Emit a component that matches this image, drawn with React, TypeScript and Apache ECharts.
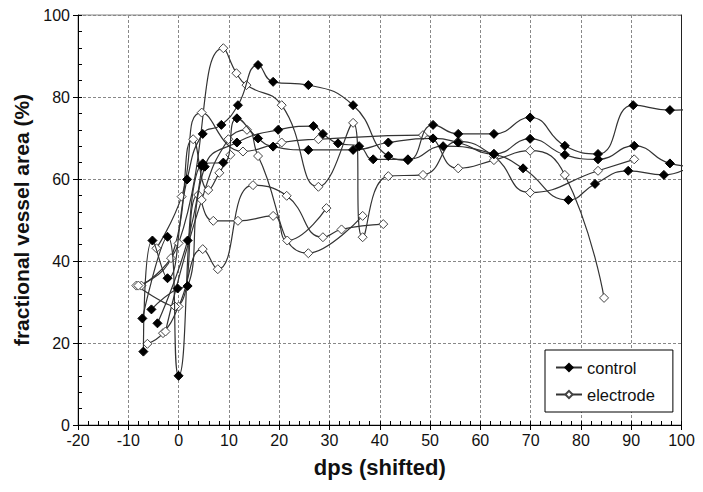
import React, { useEffect, useRef } from "react";
import * as echarts from "echarts";

// x = dps (shifted), y = fractional vessel area (%)
const controlA = [[-7.0,17.9],[-5.2,45.0],[-2.2,35.8],[1.7,59.9],[4.8,71.0],[8.5,73.2],[11.8,78.0],[15.8,87.8],[18.8,83.7],[25.8,82.9],[34.7,78.0],[41.7,65.6],[45.6,64.6],[50.6,73.2],[55.6,71.0],[62.7,71.0],[69.9,75.0],[76.8,68.1],[83.4,66.1],[90.4,78.0],[97.7,76.8],[103,77.0]];
const controlB = [[-7.2,26.0],[-2.2,45.9],[0.0,12.0],[4.8,63.8],[8.9,64.0],[11.6,74.8],[15.8,69.9],[18.8,67.9],[25.8,67.1],[34.7,67.1],[41.7,68.9],[50.6,69.9],[55.6,68.9],[62.7,66.1],[69.9,69.8],[76.8,65.9],[83.4,64.8],[90.6,68.1],[97.7,63.8],[103,63.0]];
const controlC = [[-5.4,28.2],[-0.2,33.3],[1.8,33.9],[5.2,63.0],[11.6,68.9],[19.8,72.0],[26.8,72.9],[28.7,71.0],[31.7,68.7],[35.9,68.0],[38.7,64.8],[45.6,64.8],[52.6,68.0],[62.7,66.1],[68.5,62.6],[77.5,54.9],[82.8,58.8],[89.4,62.0],[96.5,61.0],[103,64.0]];
const controlD = [[-4.2,24.8],[1.8,45.0],[4.6,63.2]];

const electrodeA = [[-7.4,34.0],[0.0,44.3],[8.9,91.9],[11.5,85.8],[13.5,82.9],[20.5,78.0],[27.8,58.1],[34.7,73.7],[36.6,45.8],[41.7,60.7],[48.6,61.0],[55.6,69.2],[62.7,65.5],[69.9,56.7],[83.4,62.0],[90.6,64.8]];
const electrodeB = [[-4.4,43.1],[0.6,55.7],[4.6,76.2],[12.8,66.7],[20.5,68.9],[27.8,69.7],[48.6,70.7],[55.6,62.6],[62.7,64.6],[69.9,66.9],[76.8,61.0],[84.6,31.0]];
const electrodeC = [[-6.2,19.8],[-3.1,22.4],[0.0,28.9],[4.8,42.9],[7.8,38.0],[14.8,58.5],[21.5,55.9],[28.7,45.8],[32.4,47.7],[40.7,49.0]];
const electrodeD = [[-8.4,34.0],[-0.7,28.9],[3.9,56.1],[6.9,49.8],[11.8,49.8],[18.8,51.0],[21.6,45.0],[29.4,52.9]];
const electrodeE = [[-2.6,22.8],[4.6,54.9],[9.9,69.7],[13.6,72.0],[15.8,65.6],[25.8,41.9],[36.6,51.0]];
const electrodeF = [[-8.0,34.0],[-1.5,40.7],[2.9,69.7],[5.9,57.3],[8.1,61.5],[10.3,65.9]];

const controlSeries = [controlA, controlB, controlC, controlD];
const electrodeSeries = [electrodeA, electrodeB, electrodeC, electrodeD, electrodeE, electrodeF];

const FONT = "'Liberation Sans', Arial, sans-serif";

export default function App() {
  const ref = useRef<HTMLDivElement>(null);
  useEffect(() => {
    const chart = echarts.init(ref.current!, null, { renderer: "svg" });
    const lineStyle = { color: "#333", width: 1.2 };
    const series: any[] = [];
    electrodeSeries.forEach((d) =>
      series.push({
        name: "electrode",
        type: "line",
        data: d,
        smooth: 0.5,
        symbol: "diamond",
        symbolSize: 9,
        lineStyle,
        itemStyle: { color: "#fff", borderColor: "#444", borderWidth: 1 },
        z: 2,
      })
    );
    controlSeries.forEach((d) =>
      series.push({
        name: "control",
        type: "line",
        data: d,
        smooth: 0.5,
        symbol: "diamond",
        symbolSize: 9,
        lineStyle,
        itemStyle: { color: "#000", borderColor: "#000", borderWidth: 1 },
        z: 3,
      })
    );
    const minorAxisCommon = {
      type: "value",
      axisLabel: { show: false },
      splitLine: { show: false },
      axisTick: { show: true, inside: true, length: 4, lineStyle: { color: "#000" } },
    };
    chart.setOption({
      animation: false,
      backgroundColor: "#fff",
      textStyle: { fontFamily: FONT },
      grid: { left: 78, right: 21.5, top: 15, bottom: 67, show: true, borderColor: "#888", borderWidth: 1 },
      legend: {
        data: ["control", "electrode"],
        orient: "vertical",
        left: 545,
        top: 350,
        itemWidth: 26,
        itemHeight: 9,
        itemGap: 10,
        backgroundColor: "#fff",
        borderColor: "#000",
        borderWidth: 1,
        borderRadius: 0,
        padding: [9, 18, 9, 10],
        textStyle: { fontFamily: FONT, fontSize: 16.5, color: "#111" },
      },
      xAxis: [
        {
          type: "value",
          min: -20,
          max: 100,
          interval: 10,
          name: "dps (shifted)",
          nameLocation: "middle",
          nameGap: 31,
          nameTextStyle: { fontFamily: FONT, fontSize: 22, fontWeight: "bold", color: "#111" },
          axisLine: { onZero: false, lineStyle: { color: "#000", width: 1 } },
          axisTick: { show: true, inside: false, length: 5, lineStyle: { color: "#000" } },
          axisLabel: { fontFamily: FONT, fontSize: 16, color: "#111", margin: 7 },
          splitLine: { show: true, lineStyle: { color: "#888", type: [3, 2], width: 1 } },
        },
        {
          ...minorAxisCommon,
          min: -20,
          max: 100,
          interval: 2,
          position: "bottom",
          axisLine: { show: false, onZero: false },
        },
      ],
      yAxis: [
        {
          type: "value",
          min: 0,
          max: 100,
          interval: 20,
          name: "fractional vessel area (%)",
          nameLocation: "middle",
          nameGap: 37,
          nameTextStyle: { fontFamily: FONT, fontSize: 21, fontWeight: "bold", color: "#111" },
          axisLine: { show: true, onZero: false, lineStyle: { color: "#000", width: 1 } },
          axisTick: { show: true, inside: false, length: 5, lineStyle: { color: "#000" } },
          axisLabel: { fontFamily: FONT, fontSize: 16, color: "#111", margin: 8 },
          splitLine: { show: true, lineStyle: { color: "#888", type: [3, 2], width: 1 } },
        },
        {
          type: "value",
          min: 0,
          max: 100,
          position: "right",
          axisLine: { show: true, onZero: false, lineStyle: { color: "#222", width: 1 } },
          axisTick: { show: false },
          axisLabel: { show: false },
          splitLine: { show: false },
        },
        {
          ...minorAxisCommon,
          min: 0,
          max: 100,
          interval: 4,
          position: "left",
          axisLine: { show: false, onZero: false },
        },
      ],
      series,
    });
    return () => chart.dispose();
  }, []);
  return <div ref={ref} style={{ position: "fixed", left: 0, top: 0, width: 703, height: 492 }} />;
}
